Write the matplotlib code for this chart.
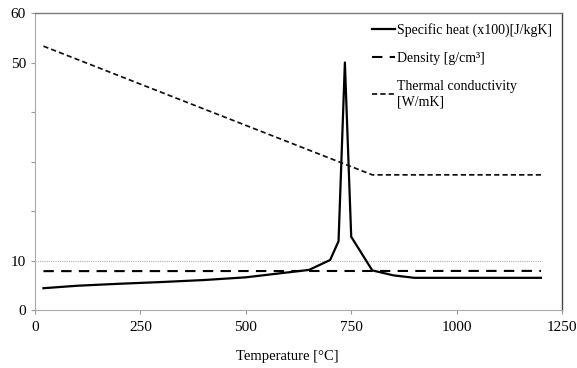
import numpy as np
import matplotlib.pyplot as plt

plt.rcParams['font.family'] = ['Liberation Serif', 'DejaVu Serif']

# values
temp_cp = [20, 100, 200, 300, 400, 500, 600, 650, 700, 720, 735, 750, 800, 850, 900, 1000, 1100, 1200]
specific_heat = [4.4, 4.9, 5.3, 5.65, 6.05, 6.6, 7.6, 8.1, 10.1, 13.9, 50.0, 14.8, 8.0, 7.0, 6.5, 6.5, 6.5, 6.5]

temp_rho = [20, 1200]
density = [7.85, 7.9]

temp_k = [20, 800, 1200]
conductivity = [53.3, 27.3, 27.3]

x_ticks = [0, 250, 500, 750, 1000, 1250]
y_ticks = [0, 10, 20, 30, 40, 50, 60]
y_labels = ['0', '10', '', '', '', '50', '60']

fig = plt.figure(figsize=(5.77, 3.68), dpi=100)
ax = fig.add_axes([35/577, 1 - 310/368, 527/577, 297/368])

# light gridline at 10 like the scanned excel chart
ax.hlines(10, 0, 1200, color='#b0b0b0', lw=0.8, ls=(0, (1, 1)), zorder=1)

ax.plot(temp_cp, specific_heat, color='black', lw=1.6, label='Specific heat (x100)[J/kgK]')
ax.plot(temp_rho, density, color='black', lw=1.5, ls=(0, (5, 3.5)), label='Density [g/cm³]')
ax.plot(temp_k, conductivity, color='#111111', lw=1.25, ls=(0, (3, 1.8)),
        label='Thermal conductivity\n[W/mK]')

ax.set_xlim(0, 1250)
ax.set_ylim(0, 60)
ax.set_xticks(x_ticks)
ax.set_yticks(y_ticks)
ax.set_yticklabels(y_labels)
ax.tick_params(labelsize=11, length=3, color='#999999', width=0.8)
ax.tick_params(axis='x', pad=5)

for side in ['left', 'bottom']:
    ax.spines[side].set_color('#aaaaaa')
    ax.spines[side].set_linewidth(0.8)
ax.spines['bottom'].set_linestyle((0, (1, 1)))
ax.spines['top'].set_color('#777777')
ax.spines['top'].set_linewidth(1.0)
ax.spines['right'].set_color('#444444')
ax.spines['right'].set_linewidth(1.0)

ax.set_xlabel('Temperature [°C]', fontsize=10.5)
ax.xaxis.set_label_coords(0.478, -0.135)

ax.legend(loc='upper right', frameon=False, fontsize=10, handlelength=1.6,
          handletextpad=0.2, labelspacing=1.1, borderaxespad=0.3)

fig.savefig('out.png', dpi=100)
